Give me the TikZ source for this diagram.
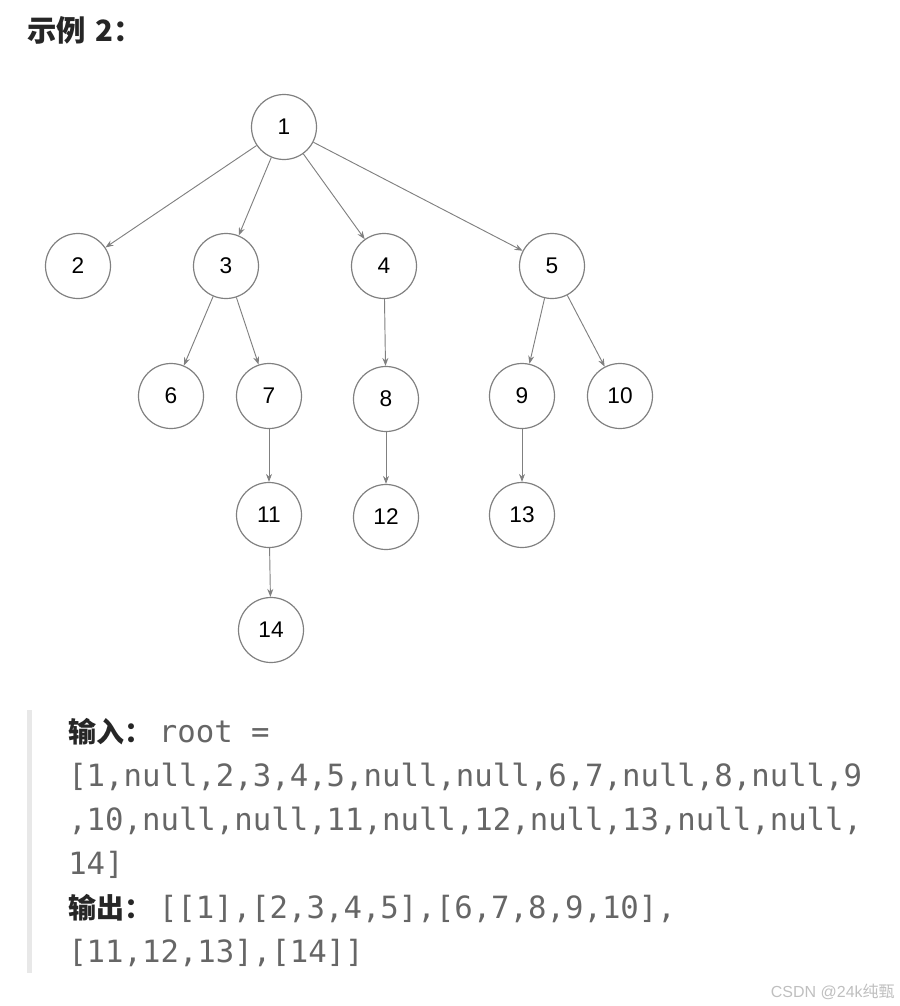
\documentclass[tikz,border=0pt]{standalone}
\usepackage{fontspec}
\setmainfont{Liberation Sans}
\newfontfamily\cjk{Noto Sans CJK SC}
\newfontfamily\codefont{DejaVu Sans Mono}
\usetikzlibrary{arrows.meta,positioning}
\definecolor{edgegray}{HTML}{808080}
\definecolor{codegray}{HTML}{666666}
\definecolor{bargray}{HTML}{E8E8E8}
\definecolor{labelblack}{HTML}{262626}

\tikzset{
  treenode/.style={draw=edgegray, circle, line width=0.9pt, minimum size=48.75pt,
                   inner sep=0pt, font=\fontsize{17}{20}\selectfont},
  treeedge/.style={-{Stealth[length=6pt,width=4.5pt]}, draw=edgegray, line width=0.7pt},
  codeline/.style={anchor=base west, inner sep=0pt, text=codegray,
                   font=\codefont\fontsize{23}{26}\selectfont},
  labeltext/.style={anchor=base west, inner sep=0pt, text=labelblack,
                    font=\cjk\bfseries\fontsize{22}{25}\selectfont},
}

\begin{document}
\begin{tikzpicture}[x=0.75pt, y=-0.75pt]
  \useasboundingbox (0,0) rectangle (899,1006);

  \node[labeltext] (title) at (27,42) {示例\hspace{7pt}2：};

  % the tree
  \foreach \n/\x/\y in {1/284/127, 2/78/266, 3/226/266, 4/384/266, 5/552/266,
                        6/171/396, 7/269/396, 8/386/399, 9/522/396, 10/620/396,
                        11/269/515, 12/386/517, 13/522/515, 14/271/630}
    \node[treenode] (n\n) at (\x,\y) {\n};

  \foreach \a/\b in {1/2, 1/3, 1/4, 1/5, 3/6, 3/7, 4/8, 5/9, 5/10,
                     7/11, 8/12, 9/13, 11/14}
    \draw[treeedge] (n\a) -- (n\b);

  % input / output block
  \fill[bargray] (27,710) rectangle (32,973);
  \node[codeline] (l1) at (68,742) {{\cjk\bfseries\color{labelblack}\fontsize{21}{24}\selectfont 输入：}\hspace{5pt}root =};
  \node[codeline] (l2) at (68,786) {[1,null,2,3,4,5,null,null,6,7,null,8,null,9};
  \node[codeline] (l3) at (68,830) {,10,null,null,11,null,12,null,13,null,null,};
  \node[codeline] (l4) at (68,874) {14]};
  \node[codeline] (l5) at (68,918) {{\cjk\bfseries\color{labelblack}\fontsize{21}{24}\selectfont 输出：}\hspace{5pt}[[1],[2,3,4,5],[6,7,8,9,10],};
  \node[codeline] (l6) at (68,962) {[11,12,13],[14]]};

  \node[anchor=base east, inner sep=0pt, text=black!25,
        font=\fontsize{12}{14}\selectfont] (mark) at (895,997) {CSDN @24k{\cjk 纯甄}};
\end{tikzpicture}
\end{document}
